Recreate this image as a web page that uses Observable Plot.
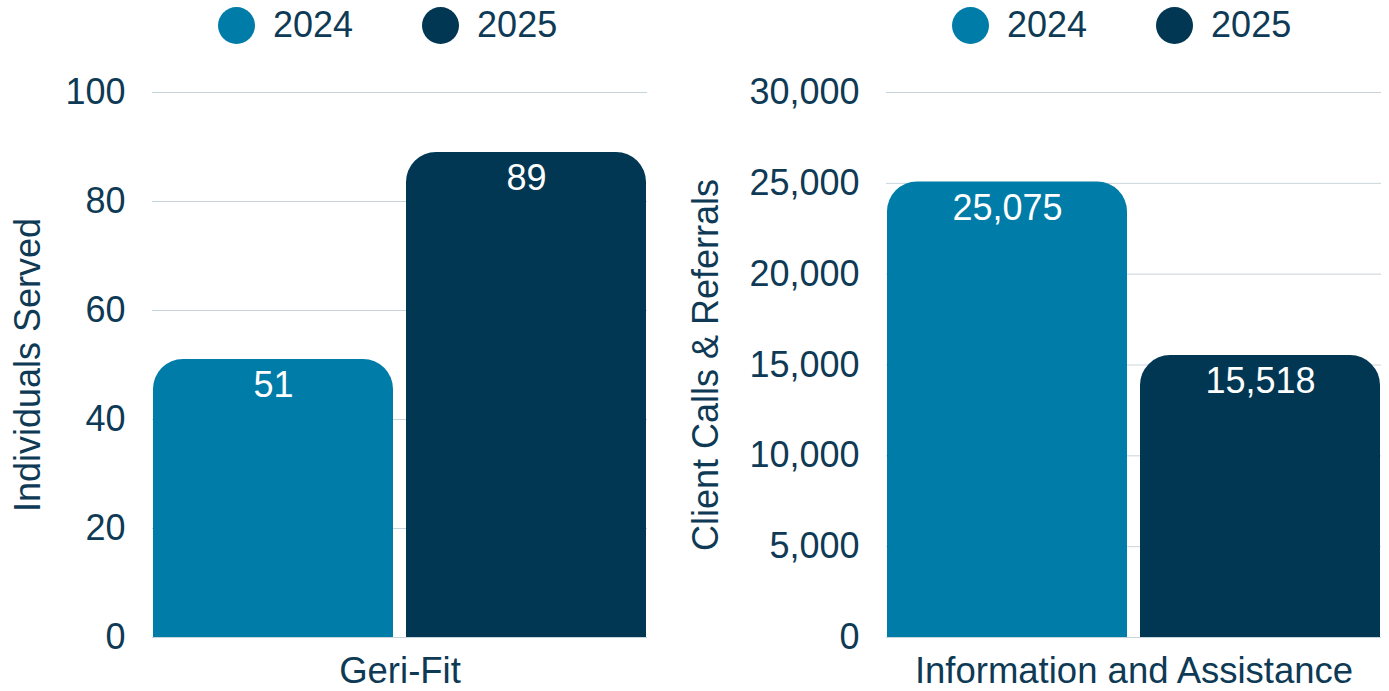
<!DOCTYPE html>
<html><head><meta charset="utf-8">
<script src="https://cdn.jsdelivr.net/npm/d3@7"></script>
<script src="https://cdn.jsdelivr.net/npm/@observablehq/plot@0.6"></script>
<style>
body{margin:0;background:#fff;font-family:"Liberation Sans",Arial,Helvetica,sans-serif;}
#wrap{display:flex;width:1389px;height:691px;overflow:hidden}
.panel{position:relative;flex:none}
.legend{height:50px;position:relative}
.legend .items{position:absolute;top:0;display:flex;align-items:center;height:50px;gap:69px}
.item{display:flex;align-items:center;gap:18px;font-size:36px;color:#0e3a55;line-height:1}
.sw{width:37px;height:37px;border-radius:50%}
svg{display:block}
</style></head><body><div id="wrap"></div>
<script>
const years = ["2024", "2025"];
const colors = ["#007ca8", "#013752"];
const categories = ["Geri-Fit", "Information and Assistance"];
const yLabels = ["Individuals Served", "Client Calls & Referrals"];
const values2024 = [51, 25075];
const values2025 = [89, 15518];
const yMax = [100, 30000];
const tickStep = [20, 5000];

const textColor = "#0e3a55";
const layout = [
  {width: 680, marginLeft: 152, marginRight: 33, legendLeft: 218, labelDx: -113},
  {width: 709, marginLeft: 206, marginRight: 8, legendLeft: 272, labelDx: -169}
];
const fmt = d3.format(",");
const wrap = document.getElementById("wrap");

categories.forEach((cat, i) => {
  const L = layout[i];
  const panel = document.createElement("div");
  panel.className = "panel";
  panel.style.width = L.width + "px";

  const legend = document.createElement("div");
  legend.className = "legend";
  const items = document.createElement("div");
  items.className = "items";
  items.style.left = L.legendLeft + "px";
  years.forEach((y, j) => {
    const it = document.createElement("div");
    it.className = "item";
    const sw = document.createElement("span");
    sw.className = "sw";
    sw.style.background = colors[j];
    const tx = document.createElement("span");
    tx.textContent = y;
    it.append(sw, tx);
    items.append(it);
  });
  legend.append(items);
  panel.append(legend);

  const data = years.map((y, j) => ({year: y, value: j === 0 ? values2024[i] : values2025[i]}));
  const ticks = d3.range(0, yMax[i] + 1, tickStep[i]);

  const chart = Plot.plot({
    width: L.width,
    height: 641,
    marginTop: 42,
    marginBottom: 54,
    marginLeft: L.marginLeft,
    marginRight: L.marginRight,
    style: {fontFamily: '"Liberation Sans", Arial, Helvetica, sans-serif', fontSize: "36px", color: textColor, background: "white"},
    x: {domain: years, paddingInner: 0.05, paddingOuter: 0, axis: null},
    y: {domain: [0, yMax[i]], ticks: ticks, tickFormat: d => fmt(d), tickSize: 0, tickPadding: 27, label: null},
    color: {domain: years, range: colors},
    marks: [
      Plot.ruleY(ticks, {stroke: "#c8d4dc", strokeWidth: 1}),
      Plot.barY(data, {x: "year", y: "value", fill: "year", rx: 30}),
      Plot.barY(data, {x: "year", y1: 0, y2: d => d.value / 2, fill: "year"}),
      Plot.text(data, {x: "year", y: "value", text: d => fmt(d.value), fill: "white", dy: 26, lineAnchor: "middle", fontSize: 36}),
      Plot.text([yLabels[i]], {frameAnchor: "left", rotate: -90, dx: L.labelDx, textAnchor: "middle", lineAnchor: "bottom", text: d => d, fill: textColor, fontSize: 36}),
      Plot.text([cat], {frameAnchor: "bottom", textAnchor: "middle", lineAnchor: "top", dy: 20, text: d => d, fill: textColor, fontSize: 36.5})
    ]
  });
  panel.append(chart);
  wrap.append(panel);
});
</script>
</body></html>
